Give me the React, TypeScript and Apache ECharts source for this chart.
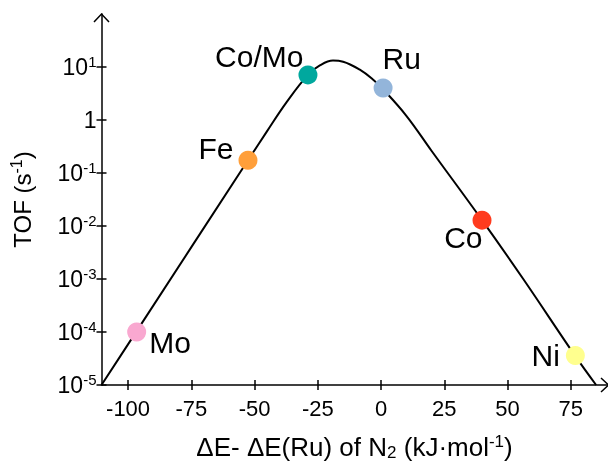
import React, { useEffect, useRef } from "react";
import * as echarts from "echarts";

// Volcano curve: ΔE (kJ/mol) and TOF (s^-1)
const curveX = [-110.5, -96.6, -52.6, -45.3, -37.4, -28.9, -24.2, -19, -15, -8.4, -3.1, 0.8, 10, 20, 39.9, 56.2, 76.8, 85];
const curveTof = [1.0e-5, 1.04e-4, 0.174, 0.59, 2.15, 7.1, 10.7, 13.2, 12.6, 8.9, 5.75, 3.8, 1.2, 0.26, 0.0129, 1.0e-3, 3.5e-5, 1.0e-5];

// Catalysts
const metals = ["Mo", "Fe", "Co/Mo", "Ru", "Co", "Ni"];
const metalDE = [-96.6, -52.6, -28.9, 0.8, 39.9, 76.8];
const metalTof = [1.0e-4, 0.174, 7.1, 4.0, 0.0129, 3.6e-5];
const metalColors = ["#F9A8D0", "#FF9F3A", "#00A89E", "#93B5DA", "#FF3B1E", "#FFFF8E"];

// Axis ticks
const xTicks = [-100, -75, -50, -25, 0, 25, 50, 75];
const yTickValues = [1e-5, 1e-4, 1e-3, 1e-2, 1e-1, 1, 10];
const yTickLabels = ["10^-5", "10^-4", "10^-3", "10^-2", "10^-1", "1", "10^1"];

const FONT = "Liberation Sans, Arial, sans-serif";

export default function App() {
  const ref = useRef<HTMLDivElement>(null);

  useEffect(() => {
    if (!ref.current) return;
    const chart = echarts.init(ref.current, null, { renderer: "svg" });

    const labelPlacement: Record<string, any> = {
      Mo: { position: "right", distance: 3, offset: [0, 10] },
      Fe: { position: "left", distance: 5, offset: [0, -12] },
      "Co/Mo": { position: "left", distance: 0, offset: [5, -18] },
      Ru: { position: "right", distance: 0, offset: [-10, -30] },
      Co: { position: "left", distance: 0, offset: [10, 17] },
      Ni: { position: "left", distance: 5, offset: [-1, 0] },
    };

    const fmtY = (v: number) => {
      const i = yTickValues.findIndex((t) => Math.abs(Math.log10(t) - Math.log10(v)) < 1e-6);
      if (i < 0) return "";
      const s = yTickLabels[i];
      const parts = s.split("^");
      if (parts.length === 1) return `{b|${parts[0]}}`;
      return `{b|${parts[0]}}{s|${parts[1]}}`;
    };

    const gridLeft = 101.5;
    const gridTop = 14;
    const gridW = 506;
    const gridH = 371;
    const axisY = gridTop + gridH;

    const option: any = {
      animation: false,
      grid: {
        left: gridLeft,
        top: gridTop,
        width: gridW,
        height: gridH,
        containLabel: false,
        outerBoundsMode: "none",
      },
      xAxis: [
        {
          type: "value",
          min: -110.5,
          max: 89.5,
          splitLine: { show: false },
          axisLine: { show: true, onZero: false, lineStyle: { color: "#000", width: 1.5 } },
          axisTick: { show: true, inside: true, length: 5, lineStyle: { color: "#000", width: 1.5 }, customValues: xTicks },
          axisLabel: {
            customValues: xTicks,
            color: "#000",
            fontSize: 22,
            fontFamily: FONT,
            margin: 12,
            formatter: (v: number) => String(v),
          },
          name: "{a|ΔE- ΔE(Ru) of N}{sub|2}{a| (kJ·mol}{sup|-1}{a|)}",
          nameLocation: "middle",
          nameGap: 48,
          nameTextStyle: {
            rich: {
              a: { fontSize: 26, fontFamily: FONT, color: "#000", lineHeight: 28 },
              sub: { fontSize: 17, fontFamily: FONT, color: "#000", verticalAlign: "bottom", lineHeight: 18 },
              sup: { fontSize: 17, fontFamily: FONT, color: "#000", verticalAlign: "top", lineHeight: 16 },
            },
          },
        },
        {
          type: "value",
          min: -110.5,
          max: 89.5,
          position: "bottom",
          splitLine: { show: false },
          axisLine: { show: false, onZero: false },
          axisTick: { show: true, inside: false, length: 5, lineStyle: { color: "#000", width: 1.5 }, customValues: xTicks },
          axisLabel: { show: false },
        },
      ],
      yAxis: [
        {
          type: "log",
          logBase: 10,
          min: 1e-5,
          max: 100,
          position: "left",
          splitLine: { show: false },
          axisLine: { show: true, onZero: false, lineStyle: { color: "#000", width: 1.5 } },
          axisTick: { show: true, inside: true, length: 5, lineStyle: { color: "#000", width: 1.5 }, customValues: yTickValues },
          axisLabel: {
            customValues: yTickValues,
            margin: 5,
            formatter: fmtY,
            rich: {
              b: { fontSize: 23, fontFamily: FONT, color: "#000", lineHeight: 26 },
              s: { fontSize: 15, fontFamily: FONT, color: "#000", verticalAlign: "top", lineHeight: 15 },
            },
          },
          name: "{a|TOF (s}{sup|-1}{a|)}",
          nameLocation: "middle",
          nameRotate: 90,
          nameGap: 65,
          nameTextStyle: {
            rich: {
              a: { fontSize: 24, fontFamily: FONT, color: "#000", lineHeight: 28 },
              sup: { fontSize: 16, fontFamily: FONT, color: "#000", verticalAlign: "top", lineHeight: 16 },
            },
          },
        },
        {
          type: "log",
          logBase: 10,
          min: 1e-5,
          max: 100,
          position: "left",
          splitLine: { show: false },
          axisLine: { show: false, onZero: false },
          axisTick: { show: true, inside: false, length: 5, lineStyle: { color: "#000", width: 1.5 }, customValues: yTickValues },
          axisLabel: { show: false },
        },
      ],
      graphic: [
        {
          type: "polyline",
          shape: { points: [[gridLeft - 7.5, gridTop + 8], [gridLeft, gridTop], [gridLeft + 7.5, gridTop + 8]] },
          style: { stroke: "#000", lineWidth: 1.5, fill: "none" },
          z: 10,
        },
        {
          type: "polyline",
          shape: { points: [[601, axisY - 7], [608.5, axisY], [601, axisY + 7]] },
          style: { stroke: "#000", lineWidth: 1.5, fill: "none" },
          z: 10,
        },
      ],
      series: [
        {
          type: "line",
          xAxisIndex: 0,
          yAxisIndex: 0,
          data: curveX.map((x, i) => [x, curveTof[i]]),
          smooth: 0.4,
          showSymbol: false,
          symbol: "none",
          lineStyle: { color: "#000", width: 2 },
          z: 2,
        },
        {
          type: "scatter",
          xAxisIndex: 0,
          yAxisIndex: 0,
          symbolSize: 19,
          z: 3,
          data: metals.map((m, i) => ({
            name: m,
            value: [metalDE[i], metalTof[i]],
            itemStyle: { color: metalColors[i], opacity: 1 },
            label: {
              show: true,
              formatter: m,
              color: "#000",
              fontSize: 30,
              fontFamily: FONT,
              ...labelPlacement[m],
            },
          })),
        },
      ],
    };

    chart.setOption(option);
    return () => chart.dispose();
  }, []);

  return (
    <div
      ref={ref}
      style={{ position: "fixed", left: 0, top: 0, width: 608, height: 461 }}
    />
  );
}
